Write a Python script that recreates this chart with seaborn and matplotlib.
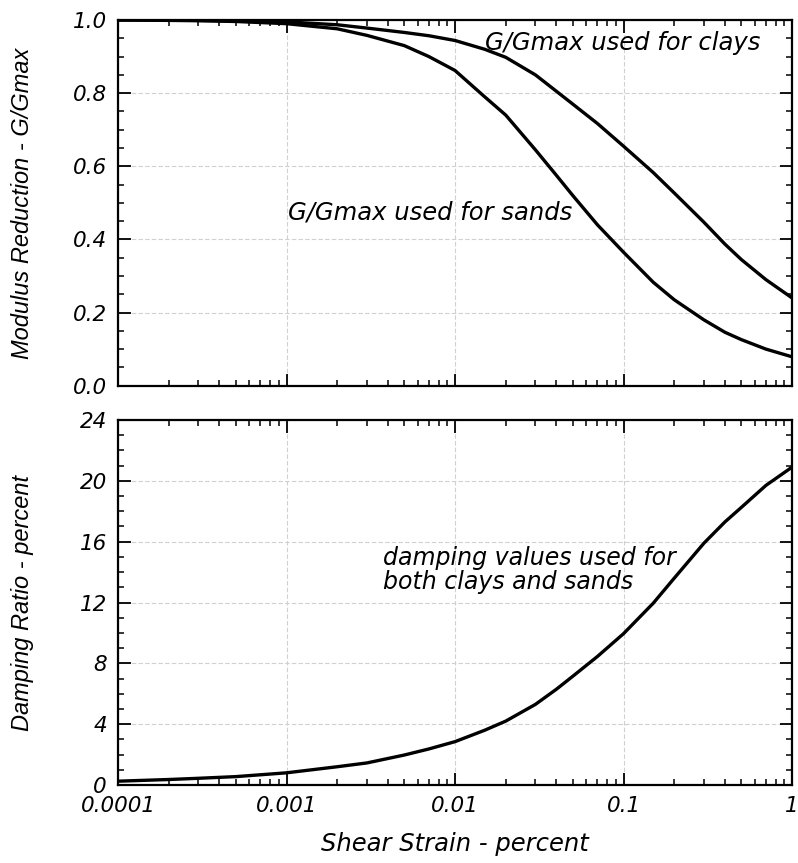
import matplotlib
matplotlib.use("Agg")
from matplotlib import pyplot as plt
from matplotlib.ticker import LogLocator, MultipleLocator, NullFormatter
import seaborn as sns

import pandas as pd

# shear strain in percent
strain = [0.0001, 0.0002, 0.0003, 0.0005, 0.001, 0.002, 0.003, 0.005, 0.007, 0.01,
          0.015, 0.02, 0.03, 0.04, 0.05, 0.07, 0.1, 0.15, 0.2, 0.3, 0.4, 0.5, 0.7, 1.0]

# modulus reduction G/Gmax
gg_clay = [1.0, 1.0, 0.999, 0.998, 0.995, 0.987, 0.978, 0.966, 0.957, 0.944,
           0.92, 0.898, 0.85, 0.805, 0.77, 0.717, 0.655, 0.583, 0.527, 0.447, 0.387, 0.345, 0.29, 0.24]
gg_sand = [1.0, 0.999, 0.998, 0.996, 0.99, 0.976, 0.958, 0.93, 0.90, 0.862,
           0.79, 0.74, 0.645, 0.575, 0.52, 0.44, 0.365, 0.283, 0.235, 0.18, 0.146, 0.126, 0.10, 0.079]

# damping ratio in percent
damping = [0.25, 0.36, 0.44, 0.55, 0.8, 1.2, 1.45, 1.97, 2.37, 2.85,
           3.6, 4.2, 5.3, 6.3, 7.15, 8.45, 9.95, 11.95, 13.6, 15.9, 17.3, 18.25, 19.7, 20.9]

x_ticks = [0.0001, 0.001, 0.01, 0.1, 1]
x_tick_labels = ["0.0001", "0.001", "0.01", "0.1", "1"]
mod_ticks = [0.0, 0.2, 0.4, 0.6, 0.8, 1.0]
mod_tick_labels = ["0.0", "0.2", "0.4", "0.6", "0.8", "1.0"]
damp_ticks = [0, 4, 8, 12, 16, 20, 24]
damp_tick_labels = ["0", "4", "8", "12", "16", "20", "24"]

df = pd.DataFrame({"strain": strain, "clay": gg_clay, "sand": gg_sand, "damping": damping})

sns.set_theme(style="ticks")
plt.rcParams["font.family"] = ["DejaVu Sans"]
plt.rcParams["font.style"] = "italic"
plt.rcParams["text.color"] = "black"
plt.rcParams["axes.labelcolor"] = "black"
plt.rcParams["axes.linewidth"] = 1.6
plt.rcParams["axes.edgecolor"] = "black"

fig = plt.figure(figsize=(7.98, 8.63), dpi=100)
ax1 = fig.add_axes([0.1479, 0.5531, 0.8446, 0.4237])
ax2 = fig.add_axes([0.1479, 0.0904, 0.8446, 0.4229], sharex=ax1)

sns.lineplot(data=df, x="strain", y="clay", ax=ax1, color="black", linewidth=2.4)
sns.lineplot(data=df, x="strain", y="sand", ax=ax1, color="black", linewidth=2.4)
sns.lineplot(data=df, x="strain", y="damping", ax=ax2, color="black", linewidth=2.4)

for ax in (ax1, ax2):
    ax.set_xscale("log")
    ax.set_xlim(0.0001, 1)
    ax.xaxis.set_minor_locator(LogLocator(base=10, subs=range(2, 10)))
    ax.xaxis.set_minor_formatter(NullFormatter())
    ax.grid(True, which="major", color="#d0d0d0", linestyle=(0, (4, 2)), linewidth=0.8)
    ax.set_axisbelow(True)
    ax.tick_params(which="both", direction="in", top=True, right=True, color="black",
                   labelsize=15.5, pad=8, labelcolor="black")
    ax.tick_params(which="major", length=9, width=1.3)
    ax.tick_params(which="minor", length=4.5, width=1.1)
    for sp in ax.spines.values():
        sp.set_visible(True)
        sp.set_linewidth(1.6)

ax1.set_ylim(0, 1)
ax1.set_yticks(mod_ticks, mod_tick_labels)
ax1.yaxis.set_minor_locator(MultipleLocator(0.05))
ax1.tick_params(labelbottom=False)
ax1.set_xlabel("")

ax2.set_ylim(0, 24)
ax2.set_yticks(damp_ticks, damp_tick_labels)
ax2.yaxis.set_minor_locator(MultipleLocator(1))
ax2.set_xticks(x_ticks, x_tick_labels)

ylab_font = dict(family="Liberation Sans", style="italic", size=17, color="black")
ax1.set_ylabel("Modulus Reduction - G/Gmax", **ylab_font)
ax2.set_ylabel("Damping Ratio - percent", **ylab_font)
ax1.yaxis.set_label_coords(-0.125, 0.5)
ax2.yaxis.set_label_coords(-0.125, 0.5)
ax2.set_xlabel("Shear Strain - percent", fontsize=17.5, style="italic", color="black")
ax2.xaxis.set_label_coords(0.5, -0.13)

ax1.text(0.01503, 0.9376, "G/Gmax used for clays", fontsize=17.5, va="center", ha="left")
ax1.text(0.00102, 0.4725, "G/Gmax used for sands", fontsize=17.5, va="center", ha="left")
ax2.text(0.00375, 14.15, "damping values used for\nboth clays and sands", fontsize=17,
         va="center", ha="left", linespacing=1.0)

fig.savefig("out.png", dpi=100)
